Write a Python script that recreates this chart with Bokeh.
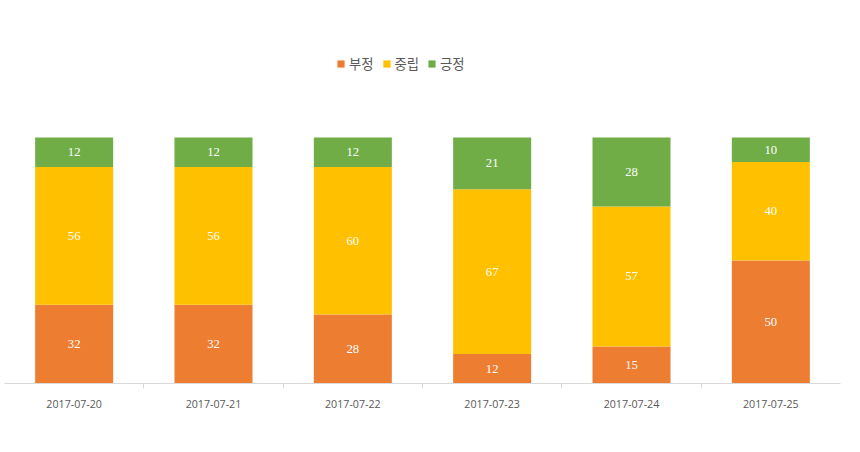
from bokeh.plotting import figure
from bokeh.models import ColumnDataSource, FixedTicker, Range1d, Legend, LegendItem, LabelSet
from bokeh.embed import file_html
from bokeh.resources import INLINE

dates = ["2017-07-20", "2017-07-21", "2017-07-22", "2017-07-23", "2017-07-24", "2017-07-25"]
neg = [32, 32, 28, 12, 15, 50]
neu = [56, 56, 60, 67, 57, 40]
pos = [12, 12, 12, 21, 28, 10]
names = ["부정", "중립", "긍정"]
colors = ["#ED7D31", "#FFC000", "#70AD47"]
FONT = "Noto Sans CJK KR"
NUMFONT = "Open Sans"

xs = [i + 0.5 for i in range(len(dates))]
src = ColumnDataSource(dict(x=xs, neg=neg, neu=neu, pos=pos,
                            y1=[a / 2 for a in neg],
                            y2=[a + b / 2 for a, b in zip(neg, neu)],
                            y3=[a + b + c / 2 for a, b, c in zip(neg, neu, pos)]))

# extra headroom above 100 holds the legend inside the frame
p = figure(width=844, height=428, output_backend="svg", toolbar_location=None,
           x_range=Range1d(0, 6), y_range=Range1d(0, 143.5),
           min_border_left=4, min_border_right=4, min_border_top=30, min_border_bottom=45)
rs = p.vbar_stack(["neg", "neu", "pos"], x="x", width=0.56, color=colors, source=src, line_width=0)

for col, ycol in [("neg", "y1"), ("neu", "y2"), ("pos", "y3")]:
    p.add_layout(LabelSet(x="x", y=ycol, text=col, source=src, text_color="white",
                          text_align="center", text_baseline="middle",
                          text_font=NUMFONT, text_font_size="9.5pt"))

p.xgrid.visible = False
p.ygrid.visible = False
p.yaxis.visible = False
p.outline_line_color = None
ax = p.xaxis[0]
ax.ticker = FixedTicker(ticks=xs, minor_ticks=[1, 2, 3, 4, 5])
ax.major_label_overrides = {x: d for x, d in zip(xs, dates)}
ax.major_tick_line_color = None
ax.minor_tick_line_color = "#d9d9d9"
ax.minor_tick_out = 5
ax.minor_tick_in = 0
ax.axis_line_color = "#d9d9d9"
ax.major_label_text_font = NUMFONT
ax.major_label_text_font_size = "8pt"
ax.major_label_text_color = "#595959"
ax.major_label_standoff = 10

legend = Legend(items=[LegendItem(label=n, renderers=[r]) for n, r in zip(names, rs)],
                orientation="horizontal", location=(332, 310),
                label_text_font=FONT, label_text_font_size="10pt", label_text_color="#595959",
                glyph_width=9, glyph_height=9, spacing=8, label_standoff=4,
                background_fill_alpha=0, border_line_color=None, padding=0, margin=0)
p.add_layout(legend, "center")

open("out.html", "w").write(file_html(p, INLINE))
